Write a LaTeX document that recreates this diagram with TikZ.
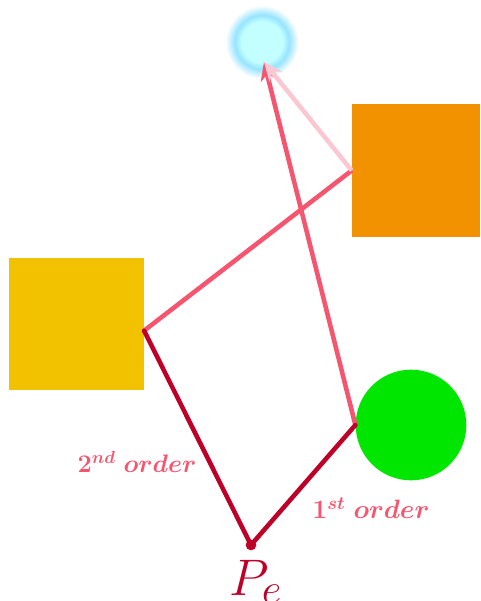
\documentclass[tikz,border=0pt]{standalone}
\usepackage{amsmath,bm}
\usetikzlibrary{arrows.meta}
\definecolor{darkred}{RGB}{190,0,40}
\definecolor{pinkline}{RGB}{245,85,110}
\definecolor{lightpink}{RGB}{250,200,210}
\definecolor{sqyellow}{RGB}{242,194,0}
\definecolor{sqorange}{RGB}{242,146,0}
\definecolor{ballgreen}{RGB}{0,230,0}
\definecolor{glowin}{RGB}{195,255,255}
\definecolor{glowmid}{RGB}{150,228,255}
\pgfdeclareradialshading{glowshade}{\pgfpoint{0bp}{0bp}}{%
  color(0bp)=(glowin); color(14bp)=(glowin); color(18.5bp)=(glowmid);
  color(25bp)=(white); color(50bp)=(white)}
\tikzset{
  order/.style={line width=3.4pt, darkred, line cap=round},
  ray/.style={line width=3.4pt, pinkline},
  lbl/.style={text=pinkline, font=\LARGE},
}
\begin{document}
\begin{tikzpicture}[x=0.75pt,y=-0.75pt]
\useasboundingbox (0,0) rectangle (480,601);
% glow
\shade[shading=glowshade] (262,42) circle [radius=27.5pt];
\coordinate (glow) at (264,62);
% shapes
\node[fill=sqyellow, minimum width=101pt, minimum height=99pt, inner sep=0pt] (Y) at (76.5,324) {};
\node[fill=sqorange, minimum width=96pt, minimum height=100pt, inner sep=0pt] (O) at (416,170.5) {};
\node[fill=ballgreen, circle, minimum size=83pt, inner sep=0pt] (G) at (411,425) {};
\coordinate (Yc) at ([yshift=-5pt]Y.east);
\fill[darkred] (251,545) circle [radius=4pt];
\coordinate (Pe) at (251,545);
\node[text=darkred, font=\Huge, anchor=north, inner sep=0pt] (Pel) at (256,560) {\scalebox{1.55}{$P_e$}};
% connectors
\draw[ray] (Yc) -- (O.west);
\draw[ray, -{Stealth[length=14pt,width=12pt]}] (G.west) -- (glow);
\draw[line width=3.4pt, lightpink, -{Stealth[length=14pt,width=12pt]}] (O.west) -- (glow);
\draw[order] (Pe) -- (Yc);
\draw[order] (Pe) -- (G.west);
% labels
\node[lbl] (l2) at (137,462) {\scalebox{1.1}{$\boldsymbol{2^{nd}\ order}$}};
\node[lbl] (l1) at (371,508) {\scalebox{1.15}{$\boldsymbol{1^{st}\ order}$}};
\end{tikzpicture}
\end{document}
